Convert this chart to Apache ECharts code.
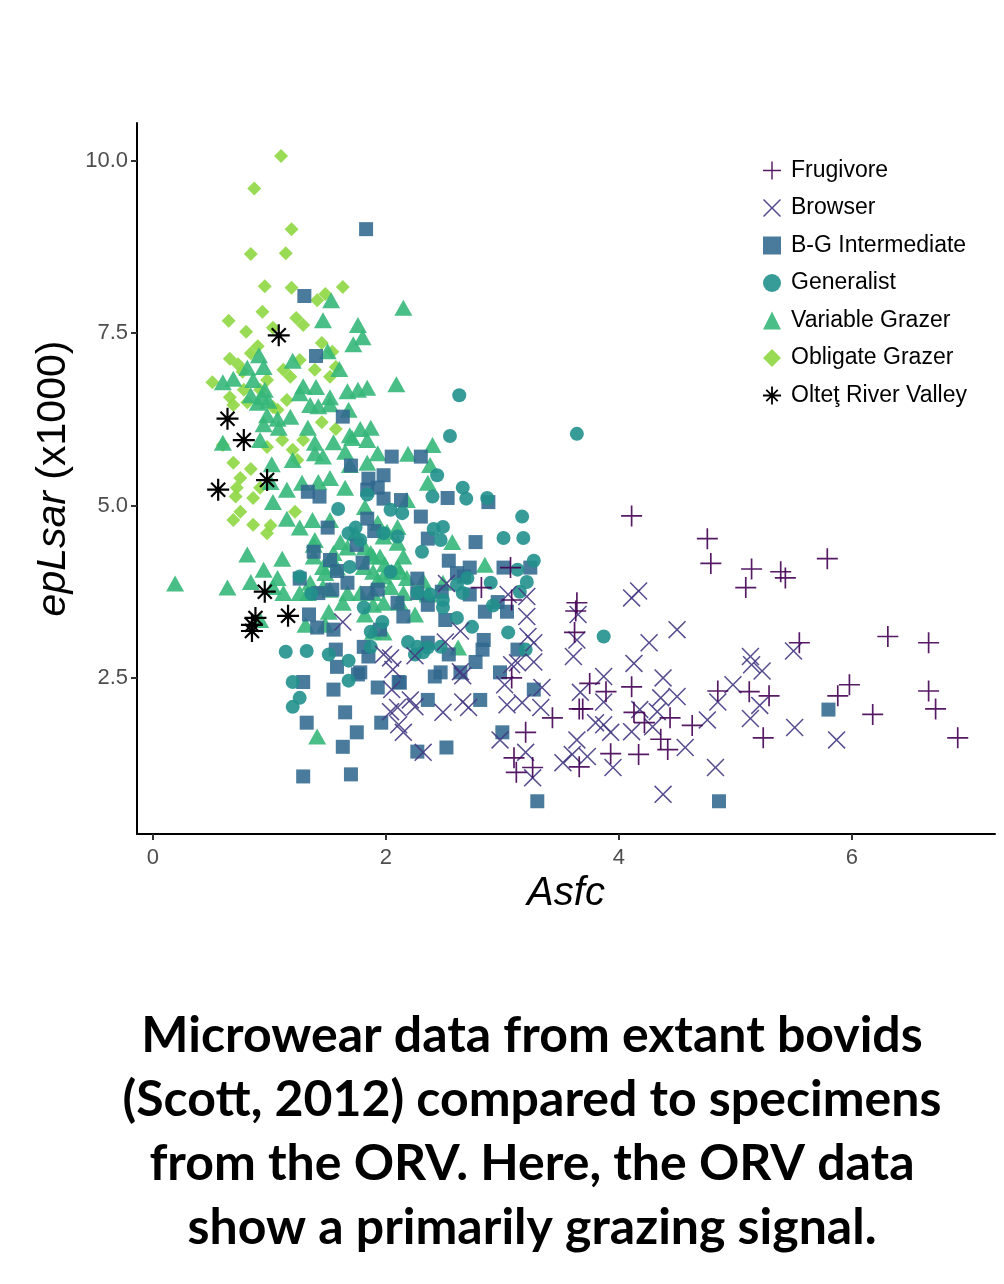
<!DOCTYPE html>
<html lang="en">
<head>
    <meta charset="utf-8">
    <title>Microwear data from extant bovids</title>
    <script src="https://cdn.jsdelivr.net/npm/echarts@6.0.0/dist/echarts.min.js"></script>
    <style type="text/css">
        html, body {margin: 0; padding: 0; background: #fff;}
        #chart {width: 1004px; height: 1284px;}
    </style>
</head>

<body>
    <div id="chart"></div>
    <script>
        // [Asfc, epLsar (x1000)]
        var frugivore = [
            [4.11, 4.85], [4.76, 4.52], [4.79, 4.16], [5.14, 4.08], [5.39, 4.04], [5.43, 3.95], [5.79, 4.23],
            [5.09, 3.81], [5.55, 3.01], [6.31, 3.10], [6.66, 3.01], [4.85, 2.31], [5.12, 2.30], [5.29, 2.24],
            [5.88, 2.24], [5.98, 2.40], [6.18, 1.97], [6.66, 2.31], [6.72, 2.05], [5.24, 1.63], [6.91, 1.63],
            [3.07, 4.10], [2.82, 3.81], [3.08, 3.63], [3.64, 3.59], [3.63, 3.47], [3.62, 3.16], [3.08, 2.50],
            [3.75, 2.42], [3.89, 2.30], [4.11, 2.37], [3.66, 2.05], [3.69, 2.05], [4.13, 2.00], [3.43, 1.92],
            [4.22, 1.85], [4.44, 1.92], [4.63, 1.81], [3.20, 1.71], [4.36, 1.61], [4.42, 1.46], [3.93, 1.40],
            [4.17, 1.39], [3.10, 1.34], [3.66, 1.21], [3.12, 1.13], [3.26, 1.20]
        ];
        var browser = [
            [1.63, 3.31], [1.98, 2.84], [2.04, 2.79], [2.06, 2.62], [2.25, 2.82], [2.51, 3.02], [2.64, 3.18],
            [2.52, 3.87], [2.64, 2.59], [2.66, 2.53], [2.05, 2.33], [2.21, 2.18], [2.25, 2.08], [2.10, 2.07],
            [2.04, 2.01], [2.49, 2.00], [2.66, 2.15], [2.11, 1.82], [2.15, 1.71], [2.32, 1.42], [2.71, 2.07],
            [3.05, 3.71], [3.21, 3.68], [3.21, 3.39], [3.22, 3.10], [3.27, 3.01], [3.13, 2.72], [3.27, 2.73],
            [3.08, 2.69], [3.02, 2.40], [3.04, 2.11], [3.17, 2.14], [3.33, 2.07], [3.34, 2.36], [2.98, 1.60],
            [3.20, 1.42], [3.26, 1.05], [3.65, 3.42], [3.64, 3.05], [3.61, 2.81], [3.67, 2.29], [3.80, 1.85],
            [3.87, 1.82], [3.87, 2.15], [3.87, 2.52], [3.93, 1.71], [4.11, 1.72], [3.64, 1.60], [3.73, 1.36],
            [3.60, 1.39], [3.52, 1.27], [3.95, 1.20], [4.13, 2.71], [4.18, 2.04], [4.29, 1.79], [4.33, 2.01],
            [4.26, 3.01], [4.36, 2.21], [4.38, 2.50], [4.50, 2.23], [4.50, 3.20], [4.57, 1.49], [4.38, 0.81],
            [4.76, 1.89], [4.85, 2.15], [4.98, 2.40], [4.83, 1.20], [4.11, 3.66], [4.17, 3.76], [5.13, 2.81],
            [5.14, 2.69], [5.23, 2.60], [5.50, 2.89], [5.21, 2.10], [5.13, 1.91], [5.51, 1.78], [5.87, 1.60]
        ];
        var bgIntermediate = [
            [1.83, 9.01], [1.30, 8.04], [1.40, 7.17], [1.63, 6.29], [2.05, 5.71], [2.30, 5.71], [1.70, 5.58],
            [1.85, 5.39], [1.98, 5.44], [1.93, 5.26], [1.98, 5.10], [1.84, 5.23], [1.43, 5.13], [1.33, 5.20],
            [2.13, 5.08], [2.30, 4.84], [2.53, 5.11], [1.84, 4.81], [1.90, 4.63], [1.50, 4.68], [2.36, 4.52],
            [1.75, 4.43], [1.38, 4.33], [1.52, 4.21], [2.54, 4.20], [1.58, 4.05], [2.27, 3.94], [2.67, 3.97],
            [1.80, 4.17], [1.26, 3.94], [1.42, 3.73], [1.93, 3.78], [2.48, 3.75], [1.67, 3.88], [1.54, 3.78],
            [2.27, 3.73], [1.84, 3.73], [2.88, 5.05], [2.77, 4.47], [2.72, 4.10], [3.01, 4.10], [3.24, 4.10],
            [2.61, 4.02], [2.10, 3.59], [2.36, 3.56], [2.72, 3.71], [2.51, 3.34], [2.85, 3.46], [2.96, 3.60],
            [3.04, 3.46], [2.15, 3.39], [1.95, 3.20], [2.36, 3.01], [2.84, 3.05], [2.83, 2.91], [3.13, 2.91],
            [1.85, 2.81], [2.54, 2.84], [2.77, 2.73], [2.42, 2.52], [2.64, 2.58], [2.98, 2.58], [2.11, 2.44],
            [1.93, 2.36], [1.78, 2.58], [2.81, 2.18], [2.36, 2.18], [3.27, 2.33], [1.34, 3.42], [1.55, 3.20],
            [1.41, 3.23], [1.57, 2.91], [1.81, 2.95], [1.58, 2.66], [1.76, 2.55], [1.29, 2.44], [1.55, 2.33],
            [2.12, 2.43], [2.47, 2.58], [1.65, 2.00], [1.32, 1.85], [1.96, 1.85], [1.75, 1.71], [1.63, 1.50],
            [2.27, 1.43], [2.52, 1.49], [1.29, 1.07], [1.70, 1.10], [3.00, 1.71], [3.30, 0.71], [4.86, 0.71],
            [5.80, 2.04]
        ];
        var generalist = [
            [2.63, 6.60], [2.55, 6.01], [3.64, 6.04], [2.44, 5.44], [2.66, 5.26], [2.69, 5.10], [2.87, 5.11],
            [3.17, 4.84], [3.01, 4.53], [3.18, 4.53], [2.49, 4.69], [2.47, 4.50], [3.27, 4.20], [3.13, 4.07],
            [3.21, 3.89], [2.70, 3.95], [2.90, 3.88], [2.66, 3.73], [3.15, 3.75], [2.92, 3.55], [2.40, 5.13],
            [1.84, 5.16], [1.59, 4.95], [2.04, 4.94], [2.14, 4.89], [2.41, 4.66], [2.10, 4.55], [1.98, 4.60],
            [1.68, 4.60], [1.78, 4.50], [2.31, 4.33], [1.26, 3.97], [1.36, 3.72], [1.69, 4.11], [2.38, 3.71],
            [2.49, 3.63], [1.74, 4.68], [2.04, 4.04], [2.27, 3.73], [2.61, 3.85], [2.49, 3.52], [2.61, 3.37],
            [2.74, 3.24], [3.05, 3.16], [3.20, 2.91], [1.97, 3.31], [1.87, 3.17], [2.19, 3.02], [2.27, 2.95],
            [2.36, 2.94], [2.47, 2.95], [2.25, 2.84], [2.32, 2.87], [1.87, 2.95], [1.81, 3.52], [1.14, 2.88],
            [1.32, 2.89], [1.51, 2.84], [1.68, 2.75], [1.20, 2.44], [1.26, 2.21], [1.20, 2.08], [1.68, 2.46],
            [3.87, 3.10]
        ];
        var variableGrazer = [
            [1.53, 7.98], [2.15, 7.87], [1.46, 7.69], [1.76, 7.62], [1.80, 7.44], [1.72, 7.34], [1.50, 7.24],
            [0.91, 7.18], [1.20, 7.10], [1.60, 6.98], [0.81, 7.00], [0.95, 7.01], [0.60, 6.79], [0.69, 6.84],
            [0.86, 6.82], [1.29, 6.73], [1.40, 6.72], [1.67, 6.66], [1.76, 6.68], [1.84, 6.71], [2.09, 6.76],
            [0.96, 6.68], [1.52, 6.57], [0.84, 6.60], [0.94, 6.57], [1.26, 6.63], [0.90, 6.49], [0.99, 6.52],
            [1.35, 6.46], [1.42, 6.44], [1.52, 6.47], [1.68, 6.39], [0.98, 6.31], [1.07, 6.26], [1.18, 6.29],
            [0.95, 6.18], [1.08, 6.13], [1.33, 6.13], [1.78, 6.11], [1.87, 6.13], [1.69, 6.02], [1.84, 5.95],
            [0.60, 5.91], [0.92, 5.95], [1.39, 5.91], [1.55, 5.92], [1.71, 5.98], [1.93, 5.76], [2.40, 5.88],
            [2.19, 5.75], [2.38, 5.59], [1.39, 5.76], [1.20, 5.66], [1.02, 5.60], [1.46, 5.71], [1.65, 5.78],
            [1.69, 5.59], [1.84, 5.62], [1.28, 5.33], [1.42, 5.34], [1.52, 5.40], [1.65, 5.26], [1.01, 5.34],
            [2.36, 5.33], [1.15, 5.23], [1.03, 5.05], [2.18, 5.08], [1.37, 4.79], [1.52, 4.79], [1.15, 4.81],
            [1.26, 4.68], [1.93, 4.75], [2.01, 4.62], [1.82, 4.98], [1.74, 4.60], [1.98, 4.55], [2.10, 4.69],
            [2.10, 4.46], [1.39, 4.50], [1.61, 4.47], [2.57, 4.47], [1.38, 4.26], [1.38, 4.43], [1.55, 4.31],
            [1.67, 4.39], [1.87, 4.31], [1.95, 4.26], [1.82, 4.39], [2.15, 4.26], [1.11, 4.23], [0.81, 4.29],
            [0.95, 4.07], [1.07, 3.95], [1.52, 4.21], [1.46, 4.11], [1.58, 4.10], [1.81, 4.11], [1.99, 4.15],
            [2.10, 4.11], [2.32, 3.91], [2.49, 3.88], [0.64, 3.81], [0.19, 3.87], [0.84, 3.89], [1.12, 3.73],
            [1.33, 3.73], [1.52, 3.78], [1.67, 3.73], [1.89, 3.73], [2.04, 3.82], [2.15, 3.73], [1.48, 4.02],
            [1.89, 4.04], [1.98, 3.97], [2.12, 4.04], [2.18, 3.95], [1.35, 3.88], [1.46, 3.82], [1.26, 3.73],
            [1.03, 3.82], [2.85, 4.14], [1.89, 4.26], [2.05, 4.04], [1.93, 3.92], [2.36, 3.73], [1.78, 3.73],
            [2.25, 3.42], [1.98, 3.16], [1.82, 3.42], [2.62, 2.94], [0.92, 3.34], [1.31, 3.27], [1.48, 3.27],
            [1.51, 3.46], [1.63, 3.59], [1.89, 3.56], [1.98, 3.59], [2.12, 3.59], [2.36, 3.71], [1.89, 3.17],
            [1.41, 1.65]
        ];
        var obligateGrazer = [
            [1.10, 10.07], [0.87, 9.60], [1.19, 9.01], [0.84, 8.65], [1.14, 8.66], [0.96, 8.18], [1.19, 8.16],
            [1.63, 8.17], [1.48, 8.07], [1.41, 7.98], [0.94, 7.81], [0.65, 7.68], [1.23, 7.72], [1.29, 7.62],
            [0.80, 7.52], [1.03, 7.58], [1.45, 7.36], [1.54, 7.23], [0.90, 7.31], [0.84, 7.21], [0.66, 7.13],
            [0.73, 7.05], [1.26, 7.11], [1.39, 6.97], [1.57, 7.01], [1.12, 6.97], [0.51, 6.79], [0.77, 6.94],
            [1.18, 6.87], [0.66, 6.57], [0.78, 6.68], [0.69, 6.46], [1.03, 6.43], [1.15, 6.53], [1.45, 6.21],
            [1.57, 6.11], [0.98, 6.82], [0.92, 6.68], [0.81, 6.50], [1.07, 6.39], [1.52, 6.87], [1.29, 5.95],
            [1.11, 5.95], [1.20, 5.81], [1.24, 5.66], [0.98, 5.85], [0.60, 5.88], [0.69, 5.62], [0.84, 5.53],
            [0.75, 5.40], [0.72, 5.26], [0.71, 5.13], [0.86, 5.11], [0.92, 5.26], [0.75, 4.91], [0.69, 4.79],
            [0.86, 4.72], [1.01, 4.71], [0.98, 4.60], [1.22, 4.91]
        ];
        var oltetRiverValley = [
            [1.08, 7.47], [0.64, 6.26], [0.78, 5.95], [0.98, 5.37], [0.56, 5.23],
            [0.96, 3.75], [1.16, 3.40], [0.88, 3.37], [0.85, 3.27], [0.85, 3.18]
        ];
        var xTicks = [0, 2, 4, 6];
        var yTicks = [2.5, 5, 7.5, 10];
        var caption = 'Microwear data from extant bovids\n(Scott, 2012) compared to specimens\n' +
            'from the ORV. Here, the ORV data\nshow a primarily grazing signal.';

        // outline glyphs as filled paths (20x20 box)
        var plusPath = 'path://M-0.8,-10L0.8,-10L0.8,-0.8L10,-0.8L10,0.8L0.8,0.8L0.8,10L-0.8,10L-0.8,0.8L-10,0.8L-10,-0.8L-0.8,-0.8Z';
        var crossPath = 'path://M-10,-8.8L-8.8,-10L0,-1.2L8.8,-10L10,-8.8L1.2,0L10,8.8L8.8,10L0,1.2L-8.8,10L-10,8.8L-1.2,0Z';
        var starPath = 'path://M-1,-10L1,-10L1,-1L10,-1L10,1L1,1L1,10L-1,10L-1,1L-10,1L-10,-1L-1,-1Z' +
            'M-7.07,-5.67L-5.67,-7.07L0,-1.4L5.67,-7.07L7.07,-5.67L1.4,0L7.07,5.67L5.67,7.07L0,1.4L-5.67,7.07L-7.07,5.67L-1.4,0Z';

        var font = 'Liberation Sans';
        function scatter(name, data, symbol, size, color, opacity) {
            return {
                name: name, type: 'scatter', data: data,
                symbol: symbol, symbolSize: size,
                itemStyle: {color: color, opacity: opacity},
                emphasis: {disabled: true}, silent: true
            };
        }

        var chart = echarts.init(document.getElementById('chart'), null, {width: 1004, height: 1284});
        chart.setOption({
            animation: false,
            backgroundColor: '#fff',
            grid: {left: 137, right: 9, top: 123, bottom: 450},
            xAxis: {
                type: 'value', min: -0.137, max: 7.23,
                name: 'Asfc', nameLocation: 'middle', nameGap: 35,
                nameTextStyle: {fontFamily: font, fontStyle: 'italic', fontSize: 40, color: '#000'},
                axisLine: {onZero: false, lineStyle: {color: '#000', width: 2}},
                axisTick: {customValues: xTicks, length: 6, lineStyle: {color: '#333', width: 2}},
                axisLabel: {customValues: xTicks, margin: 13, fontFamily: font, fontSize: 22, color: '#4d4d4d'},
                splitLine: {show: false}
            },
            yAxis: {
                type: 'value', min: 0.235, max: 10.55,
                name: '{i|epLsar} (x1000)', nameLocation: 'middle', nameGap: 62, nameRotate: 90,
                nameTextStyle: {
                    fontFamily: font, fontSize: 41, color: '#000',
                    rich: {i: {fontFamily: font, fontStyle: 'italic', fontSize: 41, color: '#000'}}
                },
                axisLine: {onZero: false, lineStyle: {color: '#000', width: 2}},
                axisTick: {customValues: yTicks, length: 6, lineStyle: {color: '#333', width: 2}},
                axisLabel: {
                    customValues: yTicks, margin: 9, fontFamily: font, fontSize: 22, color: '#4d4d4d',
                    formatter: function (v) { return v.toFixed(1); }
                },
                splitLine: {show: false}
            },
            legend: {
                orient: 'vertical', left: 758, top: 154,
                itemWidth: 18, itemHeight: 18, itemGap: 14.5,
                textStyle: {fontFamily: font, fontSize: 23, color: '#000', lineHeight: 18, padding: [0, 0, 0, 5]},
                data: ['Frugivore', 'Browser', 'B-G Intermediate', 'Generalist',
                    'Variable Grazer', 'Obligate Grazer', 'Olteţ River Valley']
            },
            graphic: [{
                type: 'text', x: 532, y: 1004,
                style: {
                    text: caption, textAlign: 'center', textVerticalAlign: 'top',
                    font: 'bold 50px Lato', lineHeight: 64, fill: '#000'
                }
            }],
            series: [
                scatter('Obligate Grazer', obligateGrazer, 'diamond', 14, '#8FD744', 0.9),
                scatter('Variable Grazer', variableGrazer, 'triangle', [18, 16], '#35B779', 0.9),
                scatter('B-G Intermediate', bgIntermediate, 'rect', 14, '#31688E', 0.88),
                scatter('Generalist', generalist, 'circle', 14, '#21908C', 0.9),
                scatter('Browser', browser, crossPath, 18, '#443A83', 0.9),
                scatter('Frugivore', frugivore, plusPath, 21, '#440154', 0.9),
                scatter('Olteţ River Valley', oltetRiverValley, starPath, 22, '#000', 1)
            ]
        });
    </script>
</body>
</html>
